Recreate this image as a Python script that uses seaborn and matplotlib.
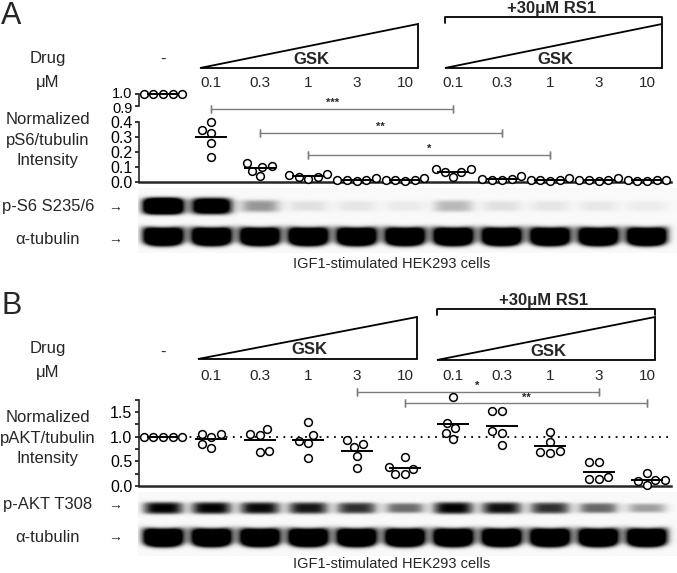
#!/usr/bin/env python3
"""GSK / RS1 dose series: pS6 and pAKT quantification with blots."""

import warnings

import matplotlib

matplotlib.use("Agg")
import matplotlib.pyplot as plt
import matplotlib.transforms as mtransforms
import numpy as np
import pandas as pd
import seaborn as sns
from matplotlib.patches import Polygon

warnings.filterwarnings("ignore")

W, H = 677, 573

groups = ["-", "GSK 0.1", "GSK 0.3", "GSK 1", "GSK 3", "GSK 10",
          "RS1 GSK 0.1", "RS1 GSK 0.3", "RS1 GSK 1", "RS1 GSK 3", "RS1 GSK 10"]
doses = ["0.1", "0.3", "1", "3", "10", "0.1", "0.3", "1", "3", "10"]

ps6_values = [
    [1.0, 1.0, 1.0, 1.0, 1.0],
    [0.35, 0.33, 0.40, 0.26, 0.17],
    [0.10, 0.13, 0.11, 0.075, 0.04],
    [0.055, 0.035, 0.02, 0.035, 0.045],
    [0.025, 0.012, 0.01, 0.012, 0.012],
    [0.025, 0.012, 0.01, 0.012, 0.012],
    [0.09, 0.065, 0.035, 0.07, 0.085],
    [0.04, 0.02, 0.015, 0.015, 0.02],
    [0.03, 0.012, 0.01, 0.012, 0.012],
    [0.025, 0.012, 0.01, 0.012, 0.012],
    [0.012, 0.01, 0.012, 0.01, 0.012],
]
pakt_values = [
    [1.0, 1.0, 1.0, 1.0, 1.0],
    [1.0, 1.05, 1.05, 0.78, 0.85],
    [1.05, 1.03, 1.15, 0.68, 0.72],
    [1.30, 0.92, 1.03, 0.87, 0.56],
    [0.85, 0.79, 0.93, 0.61, 0.36],
    [0.59, 0.34, 0.24, 0.24, 0.38],
    [1.81, 1.27, 1.08, 1.17, 0.95],
    [1.52, 1.52, 1.12, 1.08, 0.83],
    [1.10, 0.90, 0.70, 0.66, 0.68],
    [0.49, 0.49, 0.19, 0.14, 0.14],
    [0.26, 0.12, 0.02, 0.11, 0.12],
]

# (from group, to group, stars, bar height in data units)
ps6_sig = [(1, 6, "***", 0.487), (2, 7, "**", 0.327), (3, 8, "*", 0.18)]
pakt_sig = [(4, 9, "*", 1.907), (5, 10, "**", 1.68)]

# band darkness per lane for the blot strips
ps6_band = [1.8, 1.4, 0.45, 0.16, 0.13, 0.11, 0.34, 0.16, 0.13, 0.12, 0.1]
tub_a_band = [1.7] * 11
pakt_band = [0.95, 0.95, 0.92, 0.88, 0.8, 0.6, 0.95, 0.9, 0.8, 0.62, 0.42]
tub_b_band = [1.7] * 11

STEP = 48.4
X0 = 163 - 0.5 * STEP  # pixel of left plot edge


def px_axes(fig, left, top, right, bottom):
    return fig.add_axes([left / W, 1 - bottom / H, (right - left) / W, (bottom - top) / H])


def to_frame(values):
    rows = [(g, v) for g, vals in zip(groups, values) for v in vals]
    return pd.DataFrame(rows, columns=["group", "value"])


def draw_points(ax, frame):
    sns.swarmplot(data=frame, x="group", y="value", order=groups, ax=ax,
                  color="white", edgecolor="black", linewidth=1.1, size=5.6,
                  zorder=3, clip_on=False)
    means = frame.groupby("group")["value"].mean()
    idx = np.array([groups.index(g) for g in means.index])
    ax.hlines(means.values, idx - 0.33, idx + 0.33, color="black", lw=1.4,
              zorder=4, clip_on=False)


def style_axis(ax, ylim, ticks, labels, bounds, bottom=True):
    ax.set_xlim(-0.5, 10.5)
    ax.set_ylim(*ylim)
    ax.set_facecolor("none")
    ax.set_xticks([])
    ax.set_xlabel("")
    ax.set_ylabel("")
    ax.set_yticks(ticks)
    ax.set_yticklabels(labels)
    for side in ["top", "right"]:
        ax.spines[side].set_visible(False)
    ax.spines["bottom"].set_visible(bottom)
    ax.spines["bottom"].set_linewidth(1.8)
    ax.spines["left"].set_linewidth(1.2)
    ax.spines["left"].set_bounds(*bounds)
    ax.tick_params(axis="y", direction="out", length=3.2, width=1.1,
                   labelsize=11.5, pad=1.5, colors="black")


def draw_sig(ax, sig):
    for a, b, stars, y in sig:
        ax.plot([a, b], [y, y], color="#7d7d7d", lw=1.0, clip_on=False)
        for xe in (a, b):
            ax.plot([xe, xe], [y, y], marker="|", ms=6, mew=1.0, color="#7d7d7d",
                    clip_on=False)
        ax.annotate(stars, xy=((a + b) / 2, y), xytext=(0, 0.5),
                    textcoords="offset points", ha="center", va="bottom",
                    fontsize=8, fontweight="bold", annotation_clip=False)


def draw_blot(fig, top, bottom, rows):
    left, right = 138, 677
    x0 = (left - 163) / STEP
    x1 = (right - 163) / STEP
    ax = px_axes(fig, left, top, right, bottom)
    xs = np.linspace(x0, x1, 900)
    ys = np.linspace(top, bottom, 220)
    gx, gy = np.meshgrid(xs, ys)
    img = np.full(gx.shape, 0.05)
    for dark, yc, hh, curve in rows:
        for i, d in enumerate(dark):
            dx = gx - i
            centre = yc + curve * (dx / 0.42) ** 2
            h = hh * (0.6 + 0.4 * min(d, 1.0))
            r = (np.abs(dx) / 0.43) ** 4 + (np.abs(gy - centre) / h) ** 4
            img += d * np.exp(-r)
    ax.imshow(np.clip(img, 0, 1), cmap="Greys", vmin=0, vmax=1,
              extent=(x0, x1, bottom, top), aspect="auto", interpolation="bilinear")
    ax.set_xlim(x0, x1)
    ax.set_ylim(bottom, top)
    ax.axis("off")


def triangle(over, x_left, x_right, y_top, y_base, label, label_y):
    over.add_patch(Polygon([(x_left, y_base), (x_right, y_top), (x_right, y_base)],
                           closed=True, fill=False, edgecolor="black", lw=1.3))
    over.text((x_left + x_right) / 2 + 2, label_y, label, ha="center", va="center",
              fontsize=12, fontweight="bold")


def bracket(over, x_left, x_right, y, label):
    over.plot([x_left, x_left, x_right, x_right], [y + 6, y, y, y + 6],
              color="black", lw=1.3)
    over.text((x_left + x_right) / 2 - 2, y - 8, label, ha="center",
              va="center", fontsize=12, fontweight="bold")


def main():
    sns.set_style("ticks")
    plt.rcParams["font.family"] = ["Liberation Sans", "DejaVu Sans"]

    fig = plt.figure(figsize=(W / 100, H / 100), dpi=100)
    over = fig.add_axes([0, 0, 1, 1])
    over.set_xlim(0, W)
    over.set_ylim(H, 0)
    over.axis("off")
    over.set_zorder(5)

    ps6 = to_frame(ps6_values)
    pakt = to_frame(pakt_values)

    # ---- panel A ----
    ax_top = px_axes(fig, X0, 94, X0 + 11 * STEP, 106)
    draw_points(ax_top, ps6[ps6["group"] == "-"])
    style_axis(ax_top, (0.9, 1.0), [0.9, 1.0], ["0.9", "1.0"], (0.9, 1.0), bottom=False)
    ax_top.tick_params(axis="y", labelsize=10.5)
    # nudge the two tightly packed labels apart
    for lab, shift in zip(ax_top.get_yticklabels(), (-1.2, 1.2)):
        lab.set_transform(lab.get_transform()
                          + mtransforms.ScaledTranslation(0, shift / 72, fig.dpi_scale_trans))

    ax_a = px_axes(fig, X0, 122, X0 + 11 * STEP, 182)
    draw_points(ax_a, ps6[ps6["group"] != "-"])
    style_axis(ax_a, (0, 0.4), [0, 0.1, 0.2, 0.3, 0.4],
               ["0.0", "0.1", "0.2", "0.3", "0.4"], (0, 0.4))
    draw_sig(ax_a, ps6_sig)

    # ---- panel B ----
    ax_b = px_axes(fig, X0, 486 - 1.75 * 49.3, X0 + 11 * STEP, 486)
    ax_b.axhline(1.0, color="black", lw=1.3, ls=(0, (1, 3)), zorder=1)
    draw_points(ax_b, pakt)
    ticks = np.arange(0, 1.76, 0.25)
    style_axis(ax_b, (0, 1.75), ticks,
               ["0.0", "", "0.5", "", "1.0", "", "1.5", ""], (0, 1.75))
    draw_sig(ax_b, pakt_sig)

    # ---- blots ----
    draw_blot(fig, 188, 253, [(ps6_band, 206, 8.5, 0.0), (tub_a_band, 237, 9.5, -1.5)])
    draw_blot(fig, 492, 556, [(pakt_band, 508, 6.5, 0.0), (tub_b_band, 538, 9.5, -1.5)])

    # ---- annotations ----
    for ax, y_dose in ((ax_a, 83), (ax_b, 376)):
        tr = mtransforms.blended_transform_factory(ax.transData, over.transData)
        for i, lab in enumerate(doses, start=1):
            over.text(i, y_dose, lab, transform=tr, ha="center", va="center", fontsize=11)
        over.text(0, y_dose - 24, "-", transform=tr, ha="center", va="center", fontsize=12)

    for dy, panel, blot_label, blot_y in (
        (0, "A", "p-S6 S235/6", (207, 239)),
        (290, "B", "p-AKT T308", (505, 537)),
    ):
        over.text(1, 1 + dy, panel, ha="left", va="top", fontsize=22)
        over.text(48, 59 + dy, "Drug", ha="center", va="center", fontsize=12)
        over.text(48, 83 + dy, "\u03bcM", ha="center", va="center", fontsize=12)
        over.text(48, blot_y[0], blot_label, ha="center", va="center", fontsize=12)
        over.text(48, blot_y[1], "\u03b1-tubulin", ha="center", va="center", fontsize=12)
        for yy in blot_y:
            over.text(115, yy, "\u2192", ha="center", va="center", fontsize=10,
                      fontweight="bold")

    for y0, quant in ((119, "pS6/tubulin"), (417, "pAKT/tubulin")):
        over.text(48, y0, "Normalized", ha="center", va="center", fontsize=12)
        over.text(48, y0 + 21, quant, ha="center", va="center", fontsize=12)
        over.text(48, y0 + 42, "Intensity", ha="center", va="center", fontsize=12)

    triangle(over, 200, 418, 24, 68, "GSK", 60)
    triangle(over, 445, 662, 24, 68, "GSK", 60)
    bracket(over, 445, 662, 17, "+30\u03bcM RS1")

    triangle(over, 198, 417, 317, 359, "GSK", 350)
    triangle(over, 437, 655, 317, 360, "GSK", 352)
    bracket(over, 437, 655, 309, "+30\u03bcM RS1")

    over.text(392, 264, "IGF1-stimulated HEK293 cells", ha="center", va="center",
              fontsize=10.5)
    over.text(392, 564, "IGF1-stimulated HEK293 cells", ha="center", va="center",
              fontsize=10.5)

    fig.savefig("out.png", dpi=100)
    plt.close(fig)


if __name__ == "__main__":
    main()
